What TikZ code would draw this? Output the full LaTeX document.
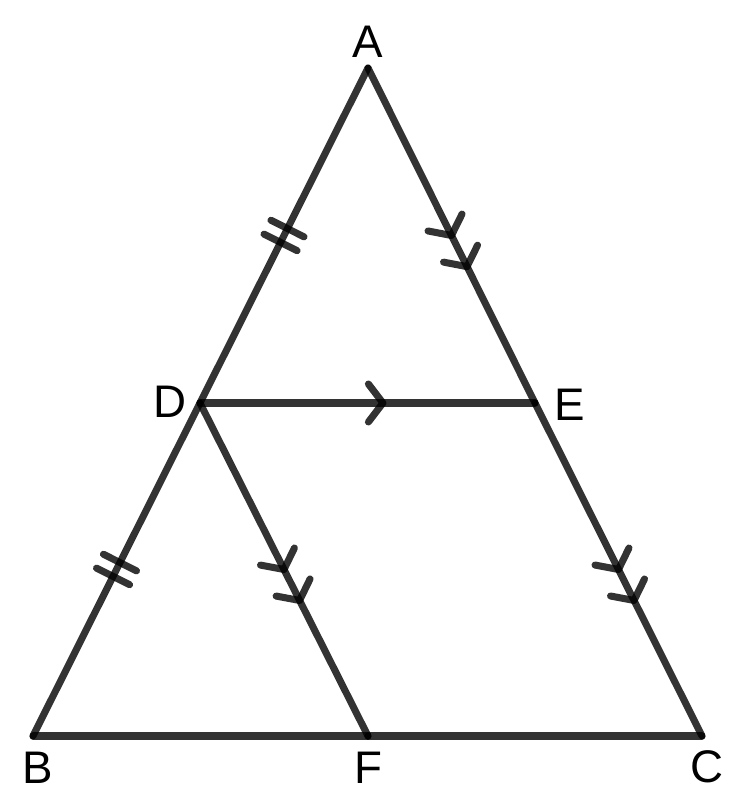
\documentclass[tikz,border=0pt]{standalone}
\usepackage{fontspec}
\setmainfont{Liberation Sans}
\usetikzlibrary{decorations.markings}
\tikzset{
    seg/.style = {draw=black, opacity=0.8, line width=4pt, line cap=round, line join=round},
    vlabel/.style = {font=\fontsize{26}{30}\selectfont, inner sep=0pt},
    twoticks/.style = {postaction={decorate, decoration={markings, mark=at position 0.5 with {
        \draw[seg] (-0.155,-0.37) -- (-0.155,0.37);
        \draw[seg] (0.155,-0.37) -- (0.155,0.37);}}}},
    onechev/.style = {postaction={decorate, decoration={markings, mark=at position #1 with {
        \draw[seg] (-0.29,0.38) -- (0,0) -- (-0.29,-0.38);}}}},
    twochev/.style = {onechev=0.5, onechev=0.593},
}

\begin{document}
\begin{tikzpicture}
\useasboundingbox (0,0) rectangle (14.66,16.08);
% vertices
\coordinate (A) at (7.36,14.72);
\coordinate (B) at (0.66,1.36);
\coordinate (C) at (14.04,1.36);
\coordinate (D) at (4.0,8.02);
\coordinate (E) at (10.7,8.02);
\coordinate (F) at (7.36,1.36);
% sides
\draw[seg, twoticks] (A) -- (D);
\draw[seg, twoticks] (D) -- (B);
\draw[seg] (B) -- (F);
\draw[seg] (F) -- (C);
\draw[seg, twochev] (A) -- (E);
\draw[seg, twochev] (E) -- (C);
\draw[seg, onechev=0.546] (D) -- (E);
\draw[seg, twochev] (D) -- (F);
% labels
\node[vlabel] (lblA) at (7.36,15.24) {A};
\node[vlabel] (lblB) at (0.76,0.72) {B};
\node[vlabel] (lblC) at (14.14,0.74) {C};
\node[vlabel] (lblD) at (3.4,8.04) {D};
\node[vlabel] (lblE) at (11.4,7.98) {E};
\node[vlabel] (lblF) at (7.36,0.72) {F};
\end{tikzpicture}
\end{document}
